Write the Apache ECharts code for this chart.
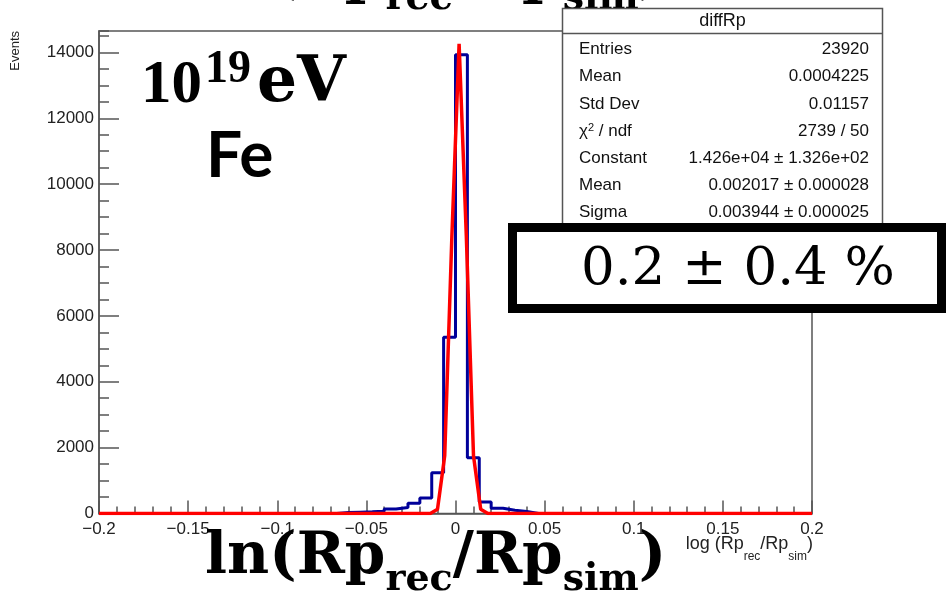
<!DOCTYPE html>
<html><head><meta charset="utf-8">
<script src="https://cdn.jsdelivr.net/npm/echarts/dist/echarts.min.js"></script>
<style>html,body{margin:0;padding:0;background:#fff}#c{width:946px;height:597px}</style>
</head><body><div id="c"></div>
<script>
// ---- histogram binning (x range and bin count) ----
const binLow = -0.2;
const binHigh = 0.2;
const nBins = 60;
// bin contents, bins 0..59 (events)
const binCounts = [
  0,0,0,0,0,0,0,0,0,0,
  0,0,0,0,0,0,0,0,0,0,
  30,40,50,70,140,180,310,470,1240,5350,
  13930,1690,350,160,100,60,0,0,0,0,
  0,0,0,0,0,0,0,0,0,0,
  0,0,0,0,0,0,0,0,0,0
];
// fitted gaussian polyline
const fitX = [-0.2, -0.01818, -0.01414, -0.0101, -0.00606, -0.00202, 0.00202, 0.00606, 0.0101, 0.01414, 0.01818, 0.02222, 0.2];
const fitY = [0, 0, 3, 127, 1750, 8440, 14260, 8440, 1750, 127, 3, 0, 0];
// axis ticks
const xTickStep = 0.05;
const yMax = 14650;
const yMajorStep = 2000;
const yMinorStep = 500;
// stats box
const statTitle = 'diffRp';
const statLabels = ['Entries', 'Mean', 'Std Dev', '{t|χ}{u|2}{t| / ndf}', 'Constant', 'Mean', 'Sigma'];
const statValues = ['23920', '0.0004225', '0.01157', '2739 / 50', '1.426e+04 ± 1.326e+02', '0.002017 ± 0.000028', '0.003944 ± 0.000025'];
const resultText = '0.2 ± 0.4 %';

const binW = (binHigh - binLow) / nBins;
const histData = binCounts.map((c, i) => [binLow + i * binW, c]);
histData.push([binHigh, binCounts[nBins - 1]]);
const fitData = fitX.map((x, i) => [x, fitY[i]]);

const axisCol = '#555';
const sans = '"Liberation Sans", Arial, Helvetica, sans-serif';

const chart = echarts.init(document.getElementById('c'));

const graphics = [];
// y axis title
graphics.push({type:'text', x:15, y:31, rotation:Math.PI/2, z:50,
  style:{text:'Events', font:'13px ' + sans, fill:'#222', align:'right', verticalAlign:'middle'}});
// x axis title
graphics.push({type:'text', x:813, y:543, z:50,
  style:{text:'{a|log (Rp}{b|rec}{a|/Rp}{b|sim}{a|)}', align:'right', verticalAlign:'top',
    rich:{a:{fontFamily:sans, fontSize:18, fill:'#222', lineHeight:20, verticalAlign:'bottom', padding:[0,0,10,0]},
          b:{fontFamily:sans, fontSize:12, fill:'#222', lineHeight:10, verticalAlign:'bottom'}}}});
// stats box
graphics.push({type:'rect', z:60, shape:{x:562.5, y:8.5, width:320, height:218},
  style:{fill:'#fff', stroke:axisCol, lineWidth:1.5}});
graphics.push({type:'line', z:61, shape:{x1:562.5, y1:33.5, x2:882.5, y2:33.5},
  style:{stroke:axisCol, lineWidth:1.5}});
graphics.push({type:'text', z:62, x:722.5, y:21,
  style:{text:statTitle, font:'18px ' + sans, fill:'#111', align:'center', verticalAlign:'middle'}});
statLabels.forEach((lab, i) => {
  const yy = 49.5 + 27.2 * i;
  graphics.push({type:'text', z:62, x:579, y:yy,
    style:{text:lab, font:'17px ' + sans, fill:'#111', align:'left', verticalAlign:'middle',
      rich:{t:{fontFamily:sans, fontSize:17, fill:'#111'}, u:{fontFamily:sans, fontSize:11, fill:'#111', verticalAlign:'top', lineHeight:12}}}});
  graphics.push({type:'text', z:62, x:869, y:yy,
    style:{text:statValues[i], font:'17px ' + sans, fill:'#111', align:'right', verticalAlign:'middle'}});
});
// result box
graphics.push({type:'rect', z:70, shape:{x:512.5, y:227.5, width:429, height:81},
  style:{fill:'#fff', stroke:'#000', lineWidth:9}});
graphics.push({type:'text', z:71, x:738, y:270,
  style:{text:resultText, font:'53px "DejaVu Serif", serif', fill:'#000', align:'center', verticalAlign:'middle'}});
// energy / primary annotation
graphics.push({type:'text', z:40, x:141, y:86,
  style:{text:'10', font:'bold 61px "Liberation Serif", serif', fill:'#000', align:'left', verticalAlign:'middle'}});
graphics.push({type:'text', z:40, x:205, y:70,
  style:{text:'19', font:'bold 46px "Liberation Serif", serif', fill:'#000', align:'left', verticalAlign:'middle'}});
graphics.push({type:'text', z:40, x:257, y:85,
  style:{text:'eV', font:'bold 63px "DejaVu Serif", serif', fill:'#000', align:'left', verticalAlign:'middle'}});
graphics.push({type:'text', z:40, x:206, y:156,
  style:{text:'Fe', font:'bold 64px Lato, sans-serif', fill:'#000', align:'left', verticalAlign:'middle'}});
// big formula labels (top one cut by page edge)
function formula(yTop) {
  return {type:'text', z:45, x:205, y:yTop,
    style:{text:'{a|ln(Rp}{b|rec}{a|/Rp}{b|sim}{a|)}', align:'left', verticalAlign:'top',
      rich:{a:{fontFamily:'"DejaVu Serif", serif', fontWeight:'bold', fontSize:58, fill:'#000', lineHeight:60, verticalAlign:'bottom', padding:[0,0,12,0]},
            b:{fontFamily:'"DejaVu Serif", serif', fontWeight:'bold', fontSize:38, fill:'#000', lineHeight:30, verticalAlign:'bottom'}}}};
}
graphics.push(formula(-42));
graphics.push(formula(539));

const numFmt = v => (Math.abs(v) < 1e-9 ? '0' : String(+v.toFixed(3)).replace('-', '\u2212'));

const option = {
  animation:false,
  backgroundColor:'#fff',
  grid:{left:99, right:134, top:31, bottom:83.5, show:true, borderColor:axisCol, borderWidth:1.5, backgroundColor:'transparent'},
  xAxis:{type:'value', min:binLow, max:binHigh, interval:xTickStep,
    axisLine:{show:true, onZero:false, lineStyle:{color:axisCol, width:1.5}},
    axisTick:{show:true, inside:true, length:13, lineStyle:{color:axisCol, width:1.5}},
    minorTick:{show:true, splitNumber:5, length:7, lineStyle:{color:axisCol, width:1.5}},
    splitLine:{show:false},
    axisLabel:{fontFamily:sans, fontSize:17, color:'#222', margin:7, formatter:numFmt}},
  yAxis:[
    {type:'value', min:0, max:yMax, interval:yMajorStep, position:'left',
      axisLine:{show:true, onZero:false, lineStyle:{color:axisCol, width:1.5}},
      axisTick:{show:true, inside:true, length:20, lineStyle:{color:axisCol, width:1.5}},
      splitLine:{show:false},
      axisLabel:{fontFamily:sans, fontSize:17, color:'#222', margin:5, showMaxLabel:false, formatter:v => String(v)}},
    {type:'value', min:0, max:yMax, interval:yMinorStep, position:'left', alignTicks:false,
      axisLine:{show:false, onZero:false},
      axisTick:{show:true, inside:true, length:10, lineStyle:{color:axisCol, width:1.5}},
      splitLine:{show:false}, axisLabel:{show:false}}
  ],
  series:[
    {type:'line', name:'hist', data:histData, step:'end', showSymbol:false, z:3,
      lineStyle:{color:'#000099', width:3}},
    {type:'line', name:'fit', data:fitData, showSymbol:false, z:4,
      lineStyle:{color:'#ff0000', width:3.5}}
  ],
  graphic:graphics
};
chart.setOption(option);
</script></body></html>
